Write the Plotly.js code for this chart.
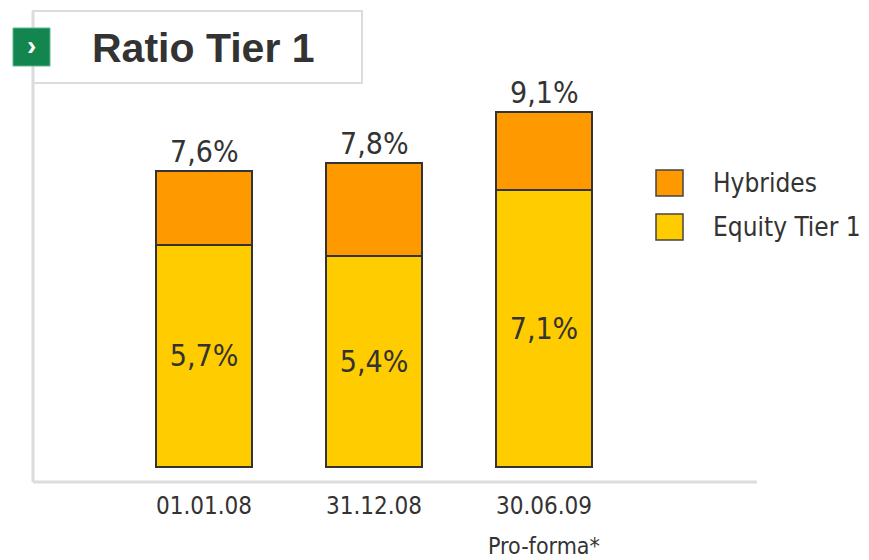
<!DOCTYPE html>
<html>
<head>
<meta charset="utf-8">
<script src="https://cdn.plot.ly/plotly-3.0.1.min.js"></script>
<style>
html,body{margin:0;padding:0;background:#fff;}
#chart{width:869px;height:560px;}
</style>
</head>
<body>
<div id="chart"></div>
<script>
const categories = ["01.01.08", "31.12.08", "30.06.09"];
const equityTier1 = [5.7, 5.4, 7.1];
const hybrides = [1.9, 2.4, 2.0];
const totals = [7.6, 7.8, 9.1];
const equityLabels = ["5,7%", "5,4%", "7,1%"];
const totalLabels = ["7,6%", "7,8%", "9,1%"];
const seriesNames = ["Hybrides", "Equity Tier 1"];
const footnote = "Pro-forma*";
const chartTitle = "Ratio Tier 1";

const FONT = "'Liberation Sans Narrow', 'DejaVu Sans Condensed', 'DejaVu Sans', sans-serif";
const TXT = "#333333";
const ORANGE = "#FF9900";
const YELLOW = "#FFCC00";

// plot area in pixels
const PL = 33, PR = 757, PT = 20, PB = 482;
const px = v => (v - PL) / (PR - PL);
const py = v => (PB - v) / (PB - PT);

const xIdx = categories.map((c, i) => i);

const traces = [
  {
    type: "bar", x: xIdx, y: equityTier1, name: seriesNames[1],
    marker: {color: YELLOW, line: {color: "#333333", width: 2}},
    text: equityLabels, textposition: "inside", insidetextanchor: "middle",
    textfont: {family: FONT, size: 30, color: TXT},
    width: 0.565, hoverinfo: "skip"
  },
  {
    type: "bar", x: xIdx, y: hybrides, name: seriesNames[0],
    marker: {color: ORANGE, line: {color: "#333333", width: 2}},
    width: 0.565, hoverinfo: "skip"
  }
];

const annotations = totals.map((t, i) => ({
  x: i, y: t, xref: "x", yref: "y", text: totalLabels[i], showarrow: false,
  yanchor: "bottom", yshift: 0, font: {family: FONT, size: 30, color: TXT}
}));

annotations.push({
  x: 2, y: py(546), xref: "x", yref: "paper", text: footnote, showarrow: false,
  yanchor: "middle", font: {family: FONT, size: 23, color: TXT}
});

// title
annotations.push({
  x: px(90), y: py(48), xref: "paper", yref: "paper", text: "<b>" + chartTitle + "</b>", showarrow: false,
  xanchor: "left", yanchor: "middle", font: {family: "'Liberation Sans', Arial, sans-serif", size: 41, color: "#333333"}
});
annotations.push({
  x: px(31.5), y: py(45), xref: "paper", yref: "paper", text: "<b>›</b>", showarrow: false,
  xanchor: "center", yanchor: "middle", font: {family: "'Liberation Sans', Arial, sans-serif", size: 28, color: "#ffffff"}
});

// legend
const legendItems = [
  {name: seriesNames[0], color: ORANGE, y: 183},
  {name: seriesNames[1], color: YELLOW, y: 227}
];
const shapes = [
  // frame
  {type: "line", xref: "paper", yref: "paper", x0: px(33), x1: px(33), y0: py(11), y1: py(482), line: {color: "#dcdcdc", width: 3}},
  {type: "line", xref: "paper", yref: "paper", x0: px(33), x1: px(757), y0: py(482), y1: py(482), line: {color: "#dcdcdc", width: 3}},
  // title box
  {type: "rect", xref: "paper", yref: "paper", x0: px(33), x1: px(362), y0: py(11), y1: py(83), line: {color: "#dcdcdc", width: 2}, fillcolor: "#ffffff", layer: "below"},
  // green marker
  {type: "rect", xref: "paper", yref: "paper", x0: px(13), x1: px(50), y0: py(28), y1: py(66), line: {color: "#5cb98a", width: 1}, fillcolor: "#12864e"}
];
legendItems.forEach(it => {
  shapes.push({type: "rect", xref: "paper", yref: "paper", x0: px(656), x1: px(683), y0: py(it.y - 13), y1: py(it.y + 13),
    line: {color: "#444444", width: 1.5}, fillcolor: it.color});
  annotations.push({x: px(711), y: py(it.y), xref: "paper", yref: "paper", text: it.name, showarrow: false,
    xanchor: "left", yanchor: "middle", font: {family: FONT, size: 26, color: TXT}});
});

const layout = {
  width: 869, height: 560,
  margin: {l: PL, r: 869 - PR, t: PT, b: 560 - PB, pad: 0},
  paper_bgcolor: "#ffffff", plot_bgcolor: "rgba(0,0,0,0)",
  barmode: "stack", showlegend: false,
  xaxis: {
    range: [-1.006, 3.253], tickmode: "array", tickvals: xIdx, ticktext: categories,
    showgrid: false, zeroline: false, showline: false, ticks: "outside", ticklen: 2, tickcolor: "rgba(0,0,0,0)",
    tickfont: {family: FONT, size: 24, color: TXT}, fixedrange: true
  },
  yaxis: {
    range: [-0.3846, 11.46], visible: false, showgrid: false, zeroline: false, fixedrange: true
  },
  shapes: shapes,
  annotations: annotations,
  font: {family: FONT, color: TXT}
};

Plotly.newPlot("chart", traces, layout, {displayModeBar: false, staticPlot: true});
</script>
</body>
</html>
